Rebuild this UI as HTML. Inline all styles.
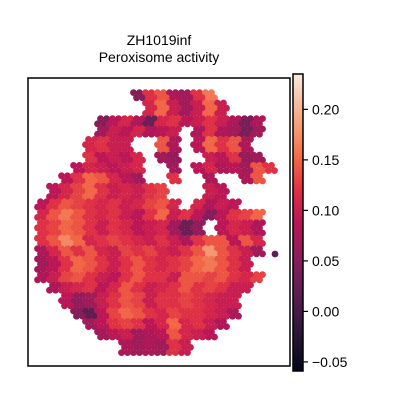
<!DOCTYPE html>
<html><head><meta charset="utf-8"><style>
body{margin:0;background:#fff;font-family:"Liberation Sans","DejaVu Sans",sans-serif}
</style></head><body>
<svg id="chart" width="400" height="400" xmlns="http://www.w3.org/2000/svg">
<defs><linearGradient id="cbg" x1="0" y1="1" x2="0" y2="0">
<stop offset="0" stop-color="#03051a"/><stop offset="0.1" stop-color="#221331"/><stop offset="0.2" stop-color="#451c47"/><stop offset="0.3" stop-color="#6a1f56"/><stop offset="0.4" stop-color="#921c5b"/><stop offset="0.5" stop-color="#b91657"/><stop offset="0.6" stop-color="#dd2c45"/><stop offset="0.7" stop-color="#f06043"/><stop offset="0.8" stop-color="#f5936a"/><stop offset="0.9" stop-color="#f6bc9f"/><stop offset="1" stop-color="#faebdd"/></linearGradient></defs>
<text x="159" y="45" font-size="14" text-anchor="middle">ZH1019inf</text>
<text x="159" y="62" font-size="14" text-anchor="middle">Peroxisome activity</text>
<g id="spots"></g>
<rect x="28" y="78" width="262" height="288" fill="none" stroke="#000" stroke-width="1.5"/>
<rect x="293" y="74" width="10" height="297" fill="url(#cbg)" stroke="#000" stroke-width="1.5"/>
<g id="cbticks"></g>
</svg>
<script>
const N=null;
const tickValues=[-0.05,0,0.05,0.1,0.15,0.2];
const tickLabels=["\u22120.05","0.00","0.05","0.10","0.15","0.20"];
const vMin=-0.059, vMax=0.235;
const gridValues=[
[N,N,N,N,N,N,N,N,.05,.12,.14,.08,.07,.12,.16,N,N,N,N,N],
[N,N,N,N,N,N,N,N,N,.11,.15,.1,.07,.1,.15,.1,N,N,N,N],
[N,N,N,N,N,.05,.09,.11,.08,.03,.11,.12,.09,.1,.12,.1,.08,.04,.08,N],
[N,N,N,N,N,.07,.1,.09,.11,.08,.09,.1,N,.08,.12,.08,.07,.04,.07,N],
[N,N,N,N,.11,.12,.1,.1,N,N,.14,.08,N,.09,.15,.12,.14,.08,N,N],
[N,N,N,N,.12,.09,.1,.09,.11,N,.07,.06,N,N,.1,.09,.12,.06,.07,N],
[N,N,N,.09,.11,.1,.09,.1,.11,N,N,.07,N,.09,.11,.08,.09,.07,.14,.12],
[N,N,.09,.12,.15,.14,.11,.09,.07,N,N,.12,N,N,.08,N,N,.08,.14,N],
[N,.09,.11,.13,.15,.12,.1,.11,.1,.12,.13,N,N,N,.1,.09,N,N,N,N],
[.09,.12,.14,.13,.12,.11,.12,.1,.11,.13,.14,.11,N,.11,.08,.1,.09,N,N,N],
[.11,.14,.16,.14,.12,.11,.12,.1,.09,.12,.15,.1,.12,.09,.05,.09,.12,.13,.15,N],
[.12,.13,.15,.14,.12,.1,.12,.11,.09,.1,.11,.07,.03,.06,N,.09,.11,.1,.08,N],
[.12,.14,.17,.15,.11,.12,.13,.12,.11,.1,.12,.1,.08,.12,.14,.14,.09,.14,.11,N],
[.08,.11,.14,.12,.14,.11,.1,.13,.12,.13,.11,.1,.12,.14,.18,.14,.12,.1,.07,N],
[.07,.09,.12,.15,.14,.12,.1,.12,.14,.12,.11,.12,.13,.15,.16,.14,.12,.1,N,N],
[.08,.1,.13,.14,.12,.1,.09,.12,.14,.12,.12,.1,.14,.14,.13,.14,.12,.11,.13,N],
[N,.08,.1,.11,.12,.09,.11,.14,.12,.1,.11,.12,.14,.12,.13,.12,.1,.1,N,N],
[N,N,.09,.06,.07,.1,.12,.14,.13,.1,.12,.12,.13,.12,.11,.1,.1,N,N,N],
[N,N,N,.05,.02,.09,.13,.15,.14,.12,.11,.13,.12,.12,.11,.1,.08,N,N,N],
[N,N,N,N,.07,.09,.12,.13,.12,.09,.11,.15,.11,.12,.1,.08,N,N,N,N],
[N,N,N,N,N,.07,.09,.1,.07,.08,.09,.14,.11,.1,.09,N,N,N,N,N],
[N,N,N,N,N,N,N,.08,.07,.08,.07,.12,.1,N,N,N,N,N,N,N]];
const outlierValues=[0.02];
const stops=[[0,[3,5,26]],[.1,[34,19,49]],[.2,[69,28,71]],[.3,[106,31,86]],[.4,[146,28,91]],[.5,[185,22,87]],[.6,[221,44,69]],[.7,[240,96,67]],[.8,[245,147,106]],[.9,[246,188,159]],[1,[250,235,221]]];
function cmap(v){let t=Math.max(0,Math.min(1,(v-vMin)/(vMax-vMin)));
for(let i=1;i<stops.length;i++){if(t<=stops[i][0]){const a=stops[i-1],b=stops[i],f=(t-a[0])/(b[0]-a[0]);
return 'rgb('+a[1].map((c,k)=>Math.round(c+(b[1][k]-c)*f)).join(',')+')';}}return 'rgb(250,235,221)';}
const NS='http://www.w3.org/2000/svg';
const g=document.getElementById('spots');
const gx0=36,gy0=90,cell=12;
for(let row=0;row*5.2<264;row++){const y=gy0+2.6+row*5.2;const off=(row%2)?3:0;
 for(let x=gx0+1.5+off;x<gx0+240;x+=6){const c=Math.floor((x-gx0)/cell),r=Math.floor((y-gy0)/cell);
  if(r<0||r>=gridValues.length||c<0||c>=20)continue;const v=gridValues[r][c];if(v===null)continue;
  const el=document.createElementNS(NS,'circle');el.setAttribute('cx',x);el.setAttribute('cy',y);el.setAttribute('r',3.4);el.setAttribute('fill',cmap(v));
  
  
  g.appendChild(el);}}
outlierValues.forEach(v=>{const el=document.createElementNS(NS,'circle');el.setAttribute('cx',275);el.setAttribute('cy',254);el.setAttribute('r',3.4);el.setAttribute('fill',cmap(v));
 
 
 g.appendChild(el);});
const tg=document.getElementById('cbticks');
const cy=v=>371-(v-vMin)/(vMax-vMin)*297;
tickValues.forEach((v,i)=>{const y=cy(v);
 const l=document.createElementNS(NS,'line');l.setAttribute('x1',303);l.setAttribute('x2',308);l.setAttribute('y1',y);l.setAttribute('y2',y);l.setAttribute('stroke','#000');l.setAttribute('stroke-width',1.2);
 
 
 tg.appendChild(l);
 const t=document.createElementNS(NS,'text');t.setAttribute('x',312);t.setAttribute('y',y+5);t.setAttribute('font-size',14);t.textContent=tickLabels[i];
 
 
 tg.appendChild(t);});
</script>
</body></html>
